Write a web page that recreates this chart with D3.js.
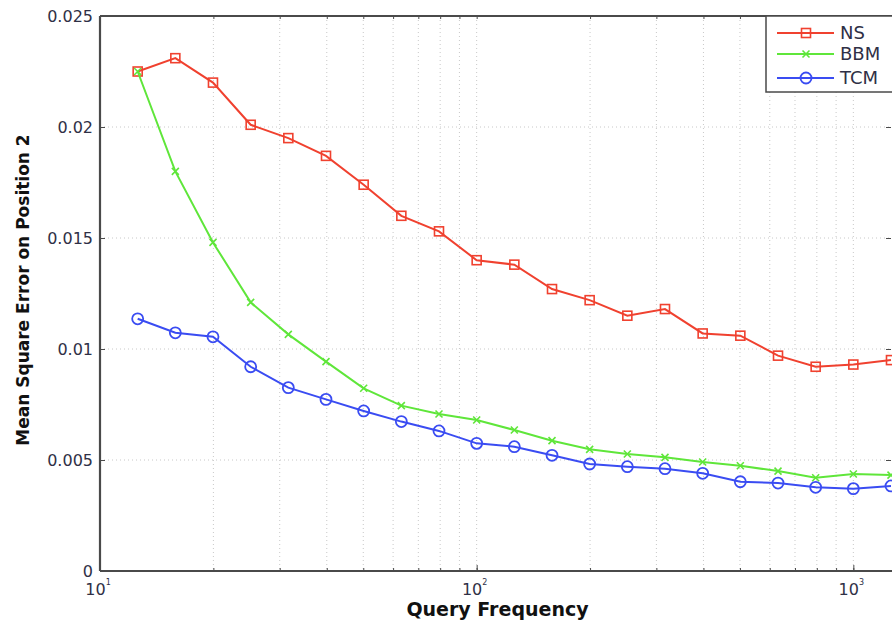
<!DOCTYPE html>
<html>
<head>
<meta charset="utf-8">
<script src="https://cdn.jsdelivr.net/npm/d3@7"></script>
<style>
  html, body { margin: 0; padding: 0; background: #fff; }
  svg { display: block; font-family: "DejaVu Sans", "Liberation Sans", Arial, sans-serif; }
</style>
</head>
<body>
<svg id="chart" width="892" height="627"></svg>
<script>
// ---- data ----
const queryFrequency = [12.59, 15.85, 19.95, 25.12, 31.62, 39.81, 50.12, 63.1, 79.43, 100,
  125.9, 158.5, 199.5, 251.2, 316.2, 398.1, 501.2, 631, 794.3, 1000, 1258.9];
const nsValues  = [0.0225, 0.0231, 0.0220, 0.0201, 0.0195, 0.0187, 0.0174, 0.0160, 0.0153, 0.0140,
  0.0138, 0.0127, 0.0122, 0.0115, 0.0118, 0.0107, 0.0106, 0.0097, 0.0092, 0.0093, 0.0095];
const bbmValues = [0.0225, 0.0180, 0.0148, 0.0121, 0.01066, 0.00943, 0.00823, 0.00745, 0.00707, 0.0068,
  0.00635, 0.00587, 0.00548, 0.00527, 0.00512, 0.00491, 0.00474, 0.0045, 0.0042, 0.00437, 0.00432];
const tcmValues = [0.01136, 0.01073, 0.01055, 0.0092, 0.00826, 0.00773, 0.00721, 0.00673, 0.00631, 0.00575,
  0.0056, 0.00521, 0.00482, 0.0047, 0.00461, 0.0044, 0.00402, 0.00396, 0.00377, 0.00371, 0.00383];
const seriesNames = ["NS", "BBM", "TCM"];
const yTickValues = [0, 0.005, 0.01, 0.015, 0.02, 0.025];
const yTickLabels = ["0", "0.005", "0.01", "0.015", "0.02", "0.025"];
const xMajorTicks = [10, 100, 1000];
const xTickExponents = ["1", "2", "3"];
const xLabel = "Query Frequency";
const yLabel = "Mean Square Error on Position 2";

// ---- layout ----
const L = 100, R = 891, T = 16, B = 571;
const svg = d3.select("#chart");
const x = d3.scaleLog().domain([10, Math.pow(10, 3.1)]).range([L, R]);
const y = d3.scaleLinear().domain([0, 0.025]).range([B, T]);

const colors = { NS: "#f0412f", BBM: "#5fe63a", TCM: "#3a4cf2" };
const series = [
  { name: "NS", values: nsValues },
  { name: "BBM", values: bbmValues },
  { name: "TCM", values: tcmValues }
];

// minor tick values for log axis
const minorTicks = [];
for (let d = 10; d < 2000; d *= 10) {
  for (let k = 1; k <= 9; k++) {
    const v = d * k;
    if (v > 10 && v <= Math.pow(10, 3.1) + 1e-6) minorTicks.push(v);
  }
}

// ---- grid ----
const grid = svg.append("g").attr("class", "grid");
grid.selectAll("line.vx").data(minorTicks).enter().append("line")
  .attr("x1", d => x(d)).attr("x2", d => x(d))
  .attr("y1", T).attr("y2", B)
  .attr("stroke", "#c8c8c8").attr("stroke-width", 1).attr("stroke-dasharray", "1,3");
grid.selectAll("line.hy").data(yTickValues.slice(1, -1)).enter().append("line")
  .attr("x1", L).attr("x2", R)
  .attr("y1", d => y(d)).attr("y2", d => y(d))
  .attr("stroke", "#c8c8c8").attr("stroke-width", 1).attr("stroke-dasharray", "1,3");

// ---- axes frame ----
const axisColor = "#4a4a4a";
const xAxisB = d3.axisBottom(x).tickValues(xMajorTicks).tickSize(-6).tickFormat("");
svg.append("g").attr("transform", `translate(0,${B})`).call(xAxisB)
  .call(g => g.select(".domain").remove())
  .call(g => g.selectAll(".tick line").attr("stroke", axisColor));
const xAxisBMinor = d3.axisBottom(x).tickValues(minorTicks).tickSize(-3).tickFormat("");
svg.append("g").attr("transform", `translate(0,${B})`).call(xAxisBMinor)
  .call(g => g.select(".domain").remove())
  .call(g => g.selectAll(".tick line").attr("stroke", axisColor));
const xAxisT = d3.axisTop(x).tickValues(minorTicks).tickSize(-3).tickFormat("");
svg.append("g").attr("transform", `translate(0,${T})`).call(xAxisT)
  .call(g => g.select(".domain").remove())
  .call(g => g.selectAll(".tick line").attr("stroke", axisColor));
const yAxisL = d3.axisLeft(y).tickValues(yTickValues).tickSize(-5).tickFormat("");
svg.append("g").attr("transform", `translate(${L},0)`).call(yAxisL)
  .call(g => g.select(".domain").remove())
  .call(g => g.selectAll(".tick line").attr("stroke", axisColor));
const yAxisR = d3.axisRight(y).tickValues(yTickValues).tickSize(-5).tickFormat("");
svg.append("g").attr("transform", `translate(${R},0)`).call(yAxisR)
  .call(g => g.select(".domain").remove())
  .call(g => g.selectAll(".tick line").attr("stroke", axisColor));

svg.append("line").attr("x1", L).attr("x2", 892).attr("y1", B).attr("y2", B).attr("stroke", axisColor).attr("stroke-width", 1.8);
svg.append("line").attr("x1", L).attr("x2", 892).attr("y1", T).attr("y2", T).attr("stroke", axisColor).attr("stroke-width", 1.8);
svg.append("line").attr("x1", L).attr("x2", L).attr("y1", T).attr("y2", B).attr("stroke", axisColor).attr("stroke-width", 2.2);

// y tick labels
const labelColor = "#2f3046";
svg.append("g").selectAll("text").data(yTickValues).enter().append("text")
  .attr("x", L - 7).attr("y", d => y(d)).attr("dy", "0.36em")
  .attr("text-anchor", "end").attr("font-size", 16).attr("fill", labelColor)
  .text((d, i) => yTickLabels[i]);

// x tick labels 10^n
const xl = svg.append("g").selectAll("text").data(xMajorTicks).enter().append("text")
  .attr("x", (d) => x(d) - 2).attr("y", B + 24)
  .attr("text-anchor", "middle").attr("font-size", 16).attr("fill", labelColor);
xl.append("tspan").text("10");
xl.append("tspan").attr("dy", -10).attr("font-size", 8).text((d, i) => xTickExponents[i]);

// axis titles
svg.append("text").attr("x", (L + R) / 2 + 2).attr("y", 616)
  .attr("text-anchor", "middle").attr("font-size", 19).attr("font-weight", "bold").attr("fill", "#111")
  .text(xLabel);
svg.append("text").attr("transform", `translate(29,290) rotate(-90)`)
  .attr("text-anchor", "middle").attr("font-size", 17).attr("font-weight", "bold").attr("fill", "#111")
  .text(yLabel);

// ---- series ----
const plot = svg.append("g");
function drawMarker(g, name, cx, cy) {
  const c = colors[name];
  if (name === "NS") {
    g.append("rect").attr("x", cx - 4.5).attr("y", cy - 4.5).attr("width", 9).attr("height", 9)
      .attr("fill", "none").attr("stroke", c).attr("stroke-width", 1.6);
  } else if (name === "BBM") {
    const s = 3.5;
    g.append("path").attr("d", `M${cx - s},${cy - s}L${cx + s},${cy + s}M${cx - s},${cy + s}L${cx + s},${cy - s}`)
      .attr("stroke", c).attr("stroke-width", 1.6).attr("fill", "none");
  } else {
    g.append("circle").attr("cx", cx).attr("cy", cy).attr("r", 5.5)
      .attr("fill", "none").attr("stroke", c).attr("stroke-width", 1.8);
  }
}
const line = d3.line().x(d => x(d[0])).y(d => y(d[1]));
series.forEach(s => {
  const pts = queryFrequency.map((q, i) => [q, s.values[i]]);
  plot.append("path").datum(pts).attr("d", line)
    .attr("fill", "none").attr("stroke", colors[s.name]).attr("stroke-width", 2);
  const mg = plot.append("g");
  pts.forEach(p => drawMarker(mg, s.name, x(p[0]), y(p[1])));
});

// ---- legend ----
const lg = svg.append("g");
lg.append("rect").attr("x", 766).attr("y", T).attr("width", 140).attr("height", 76)
  .attr("fill", "#fff").attr("stroke", axisColor).attr("stroke-width", 1.5);
const legendRows = [33, 54, 78];
seriesNames.forEach((n, i) => {
  const yy = legendRows[i];
  lg.append("line").attr("x1", 777).attr("x2", 834).attr("y1", yy).attr("y2", yy)
    .attr("stroke", colors[n]).attr("stroke-width", 2);
  drawMarker(lg, n, 806, yy);
  lg.append("text").attr("x", 840).attr("y", yy).attr("dy", "0.36em")
    .attr("font-size", 18).attr("fill", labelColor).text(n);
});
</script>
</body>
</html>
